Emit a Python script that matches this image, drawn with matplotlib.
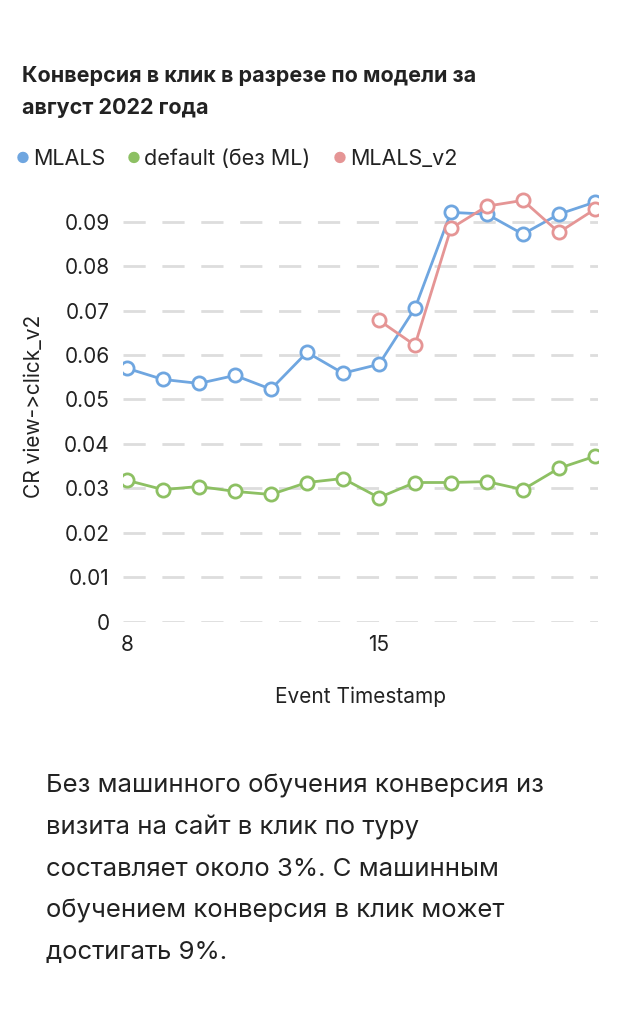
import matplotlib
matplotlib.use("Agg")
import matplotlib.pyplot as plt
import numpy as np

plt.rcParams["font.family"] = "Inter"

days = list(range(8, 22))
mlals = [0.0570, 0.0545, 0.0536, 0.0554, 0.0523, 0.0606, 0.0559, 0.0579,
         0.0705, 0.0921, 0.0917, 0.0872, 0.0917, 0.0944]
default = [0.0318, 0.0297, 0.0304, 0.0293, 0.0286, 0.0313, 0.0322, 0.0279,
           0.0313, 0.0313, 0.0315, 0.0297, 0.0345, 0.0372]
v2_days = list(range(15, 22))
mlals_v2 = [0.0678, 0.0622, 0.0885, 0.0935, 0.0948, 0.0876, 0.0928]

yticks = [0, 0.01, 0.02, 0.03, 0.04, 0.05, 0.06, 0.07, 0.08, 0.09]
ylabels = ["0", "0.01", "0.02", "0.03", "0.04", "0.05", "0.06", "0.07", "0.08", "0.09"]

c_blue, c_green, c_red = "#6fa6e0", "#8dc063", "#e59595"

fig = plt.figure(figsize=(6.17, 10.24), dpi=100)
ax = fig.add_axes([0.2, 0.393, 0.77, 0.42])

for d, v, c in [(days, mlals, c_blue), (days, default, c_green), (v2_days, mlals_v2, c_red)]:
    ax.plot(d, v, color=c, lw=2, marker="o", ms=9.5, mfc="white", mec=c, mew=2, zorder=3)

ax.set_xlim(7.9, 21.1)
ax.set_ylim(0, 0.0968)
ax.set_yticks(yticks)
ax.set_yticklabels(ylabels)
ax.set_xticks([8, 15])
ax.tick_params(length=0, labelsize=15, colors="#222222", pad=10)
ax.grid(axis="y", color="#dddddd", lw=2, dashes=(8, 6))
for s in ax.spines.values():
    s.set_visible(False)
ax.set_xlabel("Event Timestamp", fontsize=15, labelpad=22, color="#222222")
ax.set_ylabel("CR view->click_v2", fontsize=15, labelpad=14, color="#222222")

fig.text(0.035, 0.92, "Конверсия в клик в разрезе по модели за", fontsize=15.5, weight="bold", color="#222222")
fig.text(0.035, 0.889, "август 2022 года", fontsize=15.5, weight="bold", color="#222222")

x = 0.025
for label, c in [("MLALS", c_blue), ("default (без ML)", c_green), ("MLALS_v2", c_red)]:
    fig.text(x, 0.845, "●", color=c, fontsize=11, va="center")
    fig.text(x + 0.028, 0.845, label, fontsize=15.5, va="center", color="#222222")
    x += {"MLALS": 0.18, "default (без ML)": 0.335, "MLALS_v2": 0}[label]

body = ["Без машинного обучения конверсия из",
        "визита на сайт в клик по туру",
        "составляет около 3%. С машинным",
        "обучением конверсия в клик может",
        "достигать 9%."]
for i, line in enumerate(body):
    fig.text(0.075, 0.232 - i * 0.0405, line, fontsize=18.5, color="#222222", va="center")

fig.savefig("out.png", dpi=100)
